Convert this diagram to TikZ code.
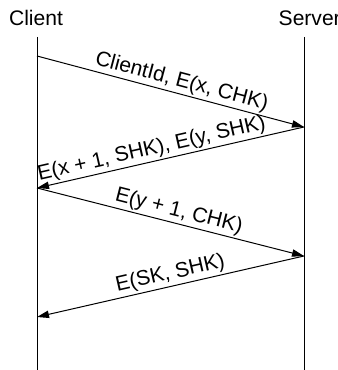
\documentclass[tikz,border=0pt]{standalone}
\usepackage{fontspec}
\setmainfont{Liberation Sans}
\usetikzlibrary{arrows.meta, positioning}

\begin{document}
\begin{tikzpicture}[x=0.75pt,y=-0.75pt,font=\fontsize{15.8}{18}\selectfont,
    msg/.style={-{Triangle[length=9pt,width=5.5pt]},line width=0.75pt},
    lbl/.style={sloped,above,inner sep=1.5pt}]
      \useasboundingbox (0,0) rectangle (337,370);
      \node[anchor=base] (client) at (36,25.5) {Client};
      \node[anchor=base west] (server) at (274,25.5) {Server};

      \coordinate (c_top) at (37,37);
      \coordinate (c_bot) at (37,370);
      \coordinate (s_top) at (304,37);
      \coordinate (s_bot) at (304,370);
      \coordinate (c_1) at (37,56);
      \coordinate (s_1) at (304,127);
      \coordinate (c_2) at (37,188);
      \coordinate (s_2) at (304,256);
      \coordinate (c_3) at (37,317);

      \draw[line width=0.75pt] (c_top) -- (c_bot)
            (s_top) -- (s_bot);

      \path (c_1) edge[msg] node[lbl,pos=.53] {ClientId, E(x, CHK)} (s_1)
            (s_1) edge[msg] node[lbl,pos=.56] {E(x + 1, SHK), E(y, SHK)} (c_2);
      \path (c_2) edge[msg] node[lbl,pos=.52] {E(y + 1, CHK)} (s_2)
            (s_2) edge[msg] node[lbl,pos=.49] {E(SK, SHK)} (c_3);
    \end{tikzpicture}
\end{document}
